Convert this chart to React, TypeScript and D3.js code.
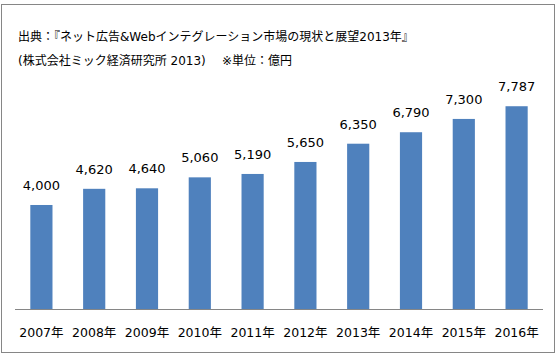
import React from "react";
import * as d3 from "d3";

const categories = ["2007年", "2008年", "2009年", "2010年", "2011年", "2012年", "2013年", "2014年", "2015年", "2016年"];
const values = [4000, 4620, 4640, 5060, 5190, 5650, 6350, 6790, 7300, 7787];
const titleLine1 = "出典：『ネット広告&Webインテグレーション市場の現状と展望2013年』";
const titleLine2 = "(株式会社ミック経済研究所 2013)";
const unitNote = "※単位：億円";

const W = 560;
const H = 356;
const FONT = "'DejaVu Sans', Verdana, 'Noto Sans CJK JP', sans-serif";

export default function App() {
  const x = d3.scaleBand<string>().domain(categories).range([15, 543]).paddingInner(0.58).paddingOuter(0.29);
  const y = d3.scaleLinear().domain([0, 9000]).range([309.3, 74.6]);
  const fmt = d3.format(",");
  return (
    <svg width={W} height={H} style={{ position: "absolute", left: 0, top: 0 }}>
      <rect x={0} y={0} width={W} height={H} fill="#fff" />
      <rect x={1.5} y={4.5} width={553} height={348} fill="#fff" stroke="#868686" strokeWidth={1} />
      <g fontFamily={FONT} fontSize={12} fill="#000">
        <text x={18} y={41}>{titleLine1}</text>
        <text x={18} y={65}>{titleLine2}</text>
        <text x={222} y={65}>{unitNote}</text>
      </g>
      {values.map((v, i) => (
        <rect key={i} x={x(categories[i])} y={y(v)} width={x.bandwidth()} height={y(0) - y(v)} fill="#4F81BD" />
      ))}
      <line x1={15} x2={543} y1={309.5} y2={309.5} stroke="#868686" strokeWidth={1} />
      <g fontFamily={FONT} fontSize={13} fill="#000" textAnchor="middle">
        {values.map((v, i) => (
          <text key={i} x={(x(categories[i]) as number) + x.bandwidth() / 2} y={y(v) - 15}>{fmt(v)}</text>
        ))}
      </g>
      <g fontFamily={FONT} fontSize={12.5} fill="#000" textAnchor="middle">
        {categories.map((c, i) => (
          <text key={i} x={(x(c) as number) + x.bandwidth() / 2} y={336.5}>{c}</text>
        ))}
      </g>
    </svg>
  );
}
